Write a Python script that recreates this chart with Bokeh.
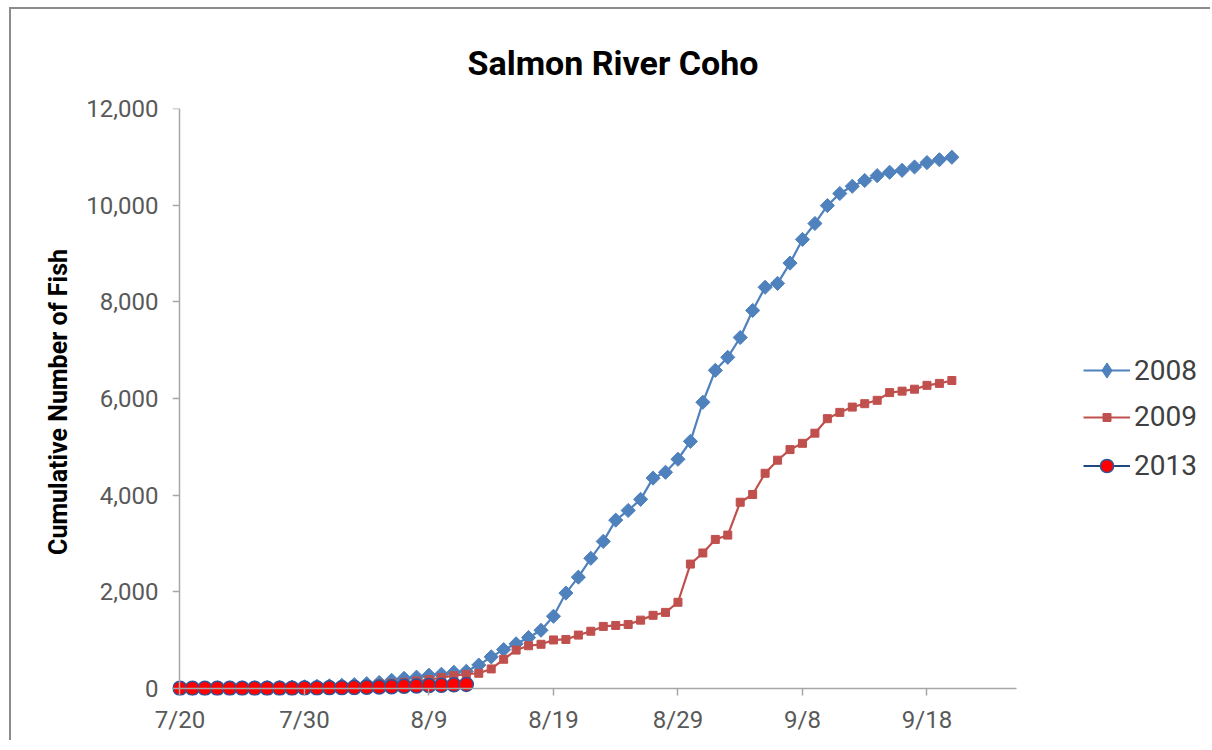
import pandas as pd
from bokeh.plotting import figure
from bokeh.models import (ColumnDataSource, Range1d, FixedTicker, DatetimeTickFormatter,
                          NumeralTickFormatter, Legend, LegendItem, LinearAxis, DatetimeAxis)
from bokeh.embed import file_html
from bokeh.resources import INLINE

# ---------------- data ----------------
series_names = ["2008", "2009", "2013"]
first_day = "07/20"
last_day_2008 = "09/20"
last_day_2009 = "09/20"
last_day_2013 = "08/12"

fish_2008 = [0, 0, 0, 5, 5, 10, 10, 15, 20, 25, 30, 40,
             50, 60, 75, 95, 120, 165, 205, 230, 270, 290,
             330, 350, 480, 650, 800, 920, 1050, 1200, 1490, 1970,
             2300, 2690, 3040, 3480, 3680, 3910, 4350, 4470, 4740, 5110,
             5920,
             6580, 6850, 7260, 7820, 8300, 8380, 8800, 9290, 9620, 9990,
             10240, 10390, 10510, 10610, 10680, 10720, 10790, 10880, 10940, 10990]
fish_2009 = [0, 0, 0, 0, 0, 5, 5, 10, 10, 15, 20, 25,
             35, 45, 60, 75, 90, 105, 125, 150, 180, 220,
             260, 290, 310, 400, 600, 790, 880, 910, 1000, 1010,
             1100, 1180, 1280, 1300, 1320, 1410, 1510, 1570, 1780, 2570,
             2800,
             3080, 3170, 3850, 4010, 4450, 4720, 4940, 5070, 5280, 5580,
             5710, 5820, 5890, 5960, 6120, 6150, 6190, 6270, 6310, 6370]
fish_2013 = [0, 0, 0, 0, 0, 0, 0, 0, 0, 0, 5, 5,
             10, 10, 15, 20, 25, 30, 40, 45, 55, 60, 70, 80]

x_tick_labels = ["7/20", "7/30", "8/9", "8/19", "8/29", "9/8", "9/18"]
y_ticks = [0, 2000, 4000, 6000, 8000, 10000, 12000]

# ---------------- helpers ----------------
YEAR = "2000/"
def d(md):
    return pd.to_datetime(YEAR + md, format="%Y/%m/%d")

def days(a, b):
    return pd.date_range(d(a), d(b), freq="D")

def ms(t):
    return t.value / 1e6

x08 = days(first_day, last_day_2008)
x09 = days(first_day, last_day_2009)
x13 = days(first_day, last_day_2013)

src08 = ColumnDataSource(dict(x=x08, y=fish_2008))
src09 = ColumnDataSource(dict(x=x09, y=fish_2009))
src13 = ColumnDataSource(dict(x=x13, y=fish_2013))

day_ms = 86400000.0
px_per_day = 12.45
FRAME_W = 1028
x0 = ms(d(first_day))
x_start = x0 - 0.6 * day_ms
x_end = x_start + FRAME_W / px_per_day * day_ms
axis_end = x_start + 67.8 * day_ms

FONT = "Roboto"
AXIS_GREY = "#a6a6a6"
LABEL_GREY = "#595959"

p = figure(x_axis_type="datetime", output_backend="svg", toolbar_location=None,
           frame_width=FRAME_W, frame_height=587,
           min_border_left=161, min_border_top=99, min_border_right=12, min_border_bottom=47,
           x_range=Range1d(x_start, x_end), y_range=Range1d(-150, 12000))

p.margin = (9, 0, 0, 11)
p.styles = {"box-shadow": "-2px -2px 0 0 #8c8c8c"}

p.outline_line_color = None
p.xgrid.visible = False
p.ygrid.visible = False
p.background_fill_color = "white"
p.border_fill_color = "white"

# title
p.title.text = "Salmon River Coho"
p.title.text_font = FONT
p.title.text_font_style = "bold"
p.title.text_font_size = "34px"
p.title.text_color = "black"
p.title.align = "left"
p.title.offset = 295
p.title.vertical_align = "top"
p.title.standoff = 48

x_ticker = FixedTicker(ticks=[ms(d(l)) for l in x_tick_labels])
x_fmt = DatetimeTickFormatter(days="%-m/%-d", months="%-m/%-d", years="%-m/%-d",
                              hours="%-m/%-d", minutes="%-m/%-d")
y_ticker = FixedTicker(ticks=y_ticks)
y_fmt = NumeralTickFormatter(format="0,0")

# x axis line + ticks at y = 0
xa = p.xaxis[0]
xa.fixed_location = 0
xa.bounds = (x0, axis_end)
xa.ticker = x_ticker
xa.formatter = x_fmt
xa.minor_tick_line_color = None
xa.major_tick_in = 0
xa.major_tick_out = 8
xa.axis_line_color = AXIS_GREY
xa.axis_line_width = 1.5
xa.major_tick_line_color = AXIS_GREY
xa.major_tick_line_width = 1.5
xa.major_label_text_font_size = "0px"
xa.major_label_standoff = 0

# y axis line + ticks at 7/20
ya = p.yaxis[0]
ya.fixed_location = x0
ya.bounds = (0, 12000)
ya.ticker = y_ticker
ya.formatter = y_fmt
ya.minor_tick_line_color = None
ya.major_tick_in = 0
ya.major_tick_out = 7
ya.axis_line_color = AXIS_GREY
ya.axis_line_width = 1.5
ya.major_tick_line_color = AXIS_GREY
ya.major_tick_line_width = 1.5
ya.major_label_text_font_size = "0px"
ya.major_label_standoff = 0

# label axes (text only) in the side panels
xl = DatetimeAxis(ticker=x_ticker, formatter=x_fmt)
xl.axis_line_color = None
xl.major_tick_line_color = None
xl.minor_tick_line_color = None
xl.major_tick_in = 0
xl.major_tick_out = 0
xl.major_label_text_font = FONT
xl.major_label_text_font_size = "24px"
xl.major_label_text_color = LABEL_GREY
xl.major_label_standoff = 10
p.add_layout(xl, "below")

yl = LinearAxis(ticker=y_ticker, formatter=y_fmt)
yl.axis_line_color = None
yl.major_tick_line_color = None
yl.minor_tick_line_color = None
yl.major_tick_in = 0
yl.major_tick_out = 0
yl.major_label_text_font = FONT
yl.major_label_text_font_size = "24px"
yl.major_label_text_color = LABEL_GREY
yl.major_label_standoff = 14
yl.axis_label = "Cumulative Number of Fish"
yl.axis_label_text_font = FONT
yl.axis_label_text_font_style = "bold"
yl.axis_label_text_font_size = "25px"
yl.axis_label_text_color = "black"
yl.axis_label_standoff = 10
p.add_layout(yl, "left")

BLUE = "#4F81BD"
RED = "#C0504D"
NAVY = "#1F497D"

l08 = p.line("x", "y", source=src08, line_color=BLUE, line_width=2.2)
m08 = p.scatter("x", "y", source=src08, marker="square", angle=0.785398, size=10,
                fill_color=BLUE, line_color=BLUE)
l09 = p.line("x", "y", source=src09, line_color=RED, line_width=2.2)
m09 = p.scatter("x", "y", source=src09, marker="square", size=8,
                fill_color=RED, line_color=RED)
l13 = p.line("x", "y", source=src13, line_color=NAVY, line_width=2)
m13 = p.scatter("x", "y", source=src13, marker="circle", size=14,
                fill_color="#FF0000", line_color="#2F5597", line_width=1.5)

# legend-only key marker for 2008 (legend markers are drawn unrotated); NaN => never plotted
key_src = ColumnDataSource(dict(x=[x0], y=[float("nan")]))
key08 = p.scatter("x", "y", source=key_src, marker="diamond", size=10,
                  fill_color=BLUE, line_color=BLUE)

def make_legend(label, renderers, glyph_h, loc):
    lg = Legend(items=[LegendItem(label=label, renderers=renderers)], location=loc)
    lg.label_text_font = FONT
    lg.label_text_font_size = "28px"
    lg.label_text_color = "#404040"
    lg.glyph_width = 47
    lg.glyph_height = glyph_h
    lg.padding = 0
    lg.margin = 0
    lg.spacing = 0
    lg.label_standoff = 4
    lg.border_line_color = None
    lg.background_fill_alpha = 0
    p.add_layout(lg, "center")

make_legend(series_names[0], [l08, key08], 38, (911, 306))
make_legend(series_names[1], [l09, m09], 20, (911, 262))
make_legend(series_names[2], [l13, m13], 33, (911, 213))

open("out.html", "w").write(file_html(p, INLINE))
